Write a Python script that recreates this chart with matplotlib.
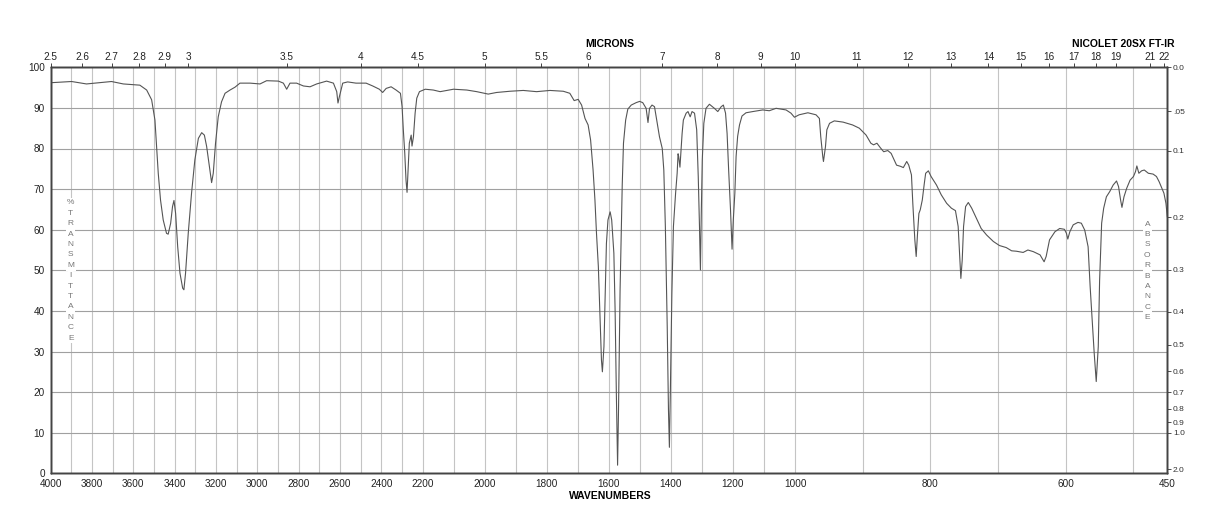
import numpy as np
import matplotlib
matplotlib.use("Agg")
import matplotlib.pyplot as plt

plt.rcParams['font.family'] = ['Liberation Sans', 'DejaVu Sans']

# spectrum (wavenumber cm-1, %T)
wavenumber = [
    4000, 3898, 3826, 3705, 3648, 3568, 3535, 3511, 3495, 3487, 3479, 3468, 3455, 3439, 3431,
    3419, 3410, 3403, 3395, 3385, 3374, 3361, 3355, 3347, 3334, 3318, 3302, 3285, 3269, 3256,
    3245, 3234, 3221, 3213, 3202, 3189, 3173, 3156, 3132, 3108, 3084, 3035, 2987, 2955, 2898,
    2874, 2858, 2842, 2810, 2777, 2745, 2713, 2665, 2632, 2616, 2610, 2603, 2587, 2563, 2523,
    2474, 2442, 2410, 2394, 2377, 2353, 2329, 2308, 2300, 2294, 2287, 2281, 2276, 2271, 2265,
    2256, 2252, 2245, 2237, 2229, 2216, 2192, 2166, 2144, 2101, 2058, 2026, 1989, 1962, 1919,
    1876, 1833, 1790, 1747, 1726, 1712, 1699, 1688, 1677, 1667, 1659, 1651, 1645, 1640, 1634,
    1629, 1624, 1621, 1616, 1612, 1608, 1603, 1596, 1591, 1584, 1580, 1576, 1572, 1569, 1564,
    1557, 1553, 1546, 1539, 1528, 1512, 1501, 1491, 1480, 1474, 1469, 1461, 1453, 1445, 1437,
    1428, 1423, 1418, 1412, 1408, 1405, 1402, 1397, 1392, 1385, 1380, 1377, 1375, 1371, 1368,
    1364, 1360, 1351, 1345, 1338, 1332, 1324, 1317, 1312, 1308, 1305, 1302, 1299, 1294, 1287,
    1276, 1260, 1249, 1238, 1231, 1224, 1219, 1214, 1208, 1203, 1199, 1194, 1190, 1185, 1179,
    1171, 1158, 1136, 1104, 1083, 1061, 1029, 1013, 1002, 994, 981, 969, 964, 962, 959,
    958, 955, 953, 949, 942, 929, 915, 905, 895, 888, 884, 879, 874, 869, 863,
    858, 850, 844, 840, 835, 832, 828, 826, 823, 821, 819, 817, 815, 812, 809,
    807, 803, 799, 791, 784, 776, 769, 763, 759, 757, 755, 753, 751, 748, 744,
    739, 732, 725, 717, 707, 698, 688, 680, 673, 663, 656, 648, 638, 632, 629,
    624, 616, 609, 602, 599, 597, 594, 589, 582, 577, 572, 567, 564, 561, 558,
    555, 552, 550, 547, 544, 540, 535, 530, 525, 522, 519, 517, 514, 510, 505,
    500, 497, 495, 492, 488, 484, 478, 471, 466, 462, 459, 455, 452, 450]
transmittance = [
    96.2, 96.5, 95.9, 96.5, 95.9, 95.6, 94.4, 92.0, 87.0, 80.5, 73.9, 67.3, 62.4, 59.1, 58.9,
    61.6, 65.7, 67.2, 64.0, 55.8, 49.3, 45.6, 45.2, 49.3, 59.1, 69.0, 77.2, 82.5, 83.9, 83.3,
    80.5, 76.4, 71.6, 73.9, 81.3, 87.8, 91.5, 93.6, 94.4, 95.1, 96.1, 96.1, 95.9, 96.7, 96.6,
    96.1, 94.6, 96.1, 96.1, 95.4, 95.2, 95.9, 96.6, 96.1, 94.0, 91.2, 92.8, 96.1, 96.4, 96.1,
    96.1, 95.4, 94.6, 93.8, 94.8, 95.2, 94.4, 93.6, 90.3, 84.6, 78.8, 72.2, 69.2, 74.7, 81.3,
    83.3, 80.6, 82.9, 88.7, 92.4, 94.0, 94.6, 94.4, 94.0, 94.6, 94.4, 94.0, 93.4, 93.8, 94.1,
    94.3, 94.0, 94.3, 94.1, 93.6, 91.8, 92.1, 90.7, 87.4, 85.8, 82.1, 74.7, 67.3, 59.1, 50.9,
    39.4, 27.9, 25.0, 31.2, 44.3, 56.6, 62.4, 64.4, 62.4, 54.2, 40.2, 19.7, 2.0, 15.6, 45.0,
    71.1, 81.3, 87.0, 89.7, 90.7, 91.3, 91.6, 91.3, 89.9, 86.4, 89.9, 90.7, 90.3, 86.6, 82.9,
    80.0, 74.7, 60.8, 36.1, 15.6, 6.4, 19.7, 44.3, 60.8, 69.0, 73.9, 78.7, 78.0, 75.4, 78.8,
    83.7, 87.0, 88.7, 89.1, 87.8, 89.1, 88.7, 84.6, 73.1, 60.8, 50.1, 64.9, 77.2, 86.2, 89.9,
    90.9, 89.9, 89.1, 90.3, 90.7, 88.7, 83.7, 74.7, 64.9, 55.2, 62.4, 69.0, 78.0, 83.0, 85.8,
    88.0, 88.8, 89.1, 89.5, 89.3, 89.9, 89.5, 88.7, 87.7, 88.3, 88.8, 88.3, 87.4, 82.9, 78.0,
    76.8, 80.5, 84.6, 86.2, 86.8, 86.5, 85.8, 85.0, 83.3, 81.3, 80.9, 81.3, 80.2, 79.2, 79.5,
    78.8, 75.9, 75.6, 75.3, 76.8, 75.9, 73.5, 66.5, 57.5, 53.4, 59.1, 64.0, 64.9, 67.3, 71.4,
    73.9, 74.5, 73.1, 71.0, 68.6, 66.5, 65.3, 64.7, 60.8, 54.2, 48.0, 52.5, 60.8, 65.7, 66.7,
    65.3, 62.8, 60.3, 58.7, 57.1, 56.1, 55.6, 54.8, 54.7, 54.4, 55.0, 54.6, 53.8, 52.1, 53.4,
    57.5, 59.5, 60.3, 60.1, 59.1, 57.7, 59.5, 61.2, 61.8, 61.6, 59.9, 55.8, 46.0, 37.8, 29.6,
    22.6, 31.2, 47.6, 61.6, 65.3, 68.1, 69.4, 71.0, 72.0, 70.6, 67.3, 65.5, 68.1, 70.2, 72.2,
    73.1, 74.3, 75.7, 73.9, 74.5, 74.7, 73.9, 73.7, 73.1, 71.8, 70.6, 69.0, 66.5, 63.2]

wn_labels = [4000, 3800, 3600, 3400, 3200, 3000, 2800, 2600, 2400, 2200,
             2000, 1800, 1600, 1400, 1200, 1000, 800, 600, 450]
micron_ticks = [2.5, 2.6, 2.7, 2.8, 2.9, 3, 3.5, 4, 4.5, 5, 5.5, 6, 7, 8, 9, 10,
                11, 12, 13, 14, 15, 16, 17, 18, 19, 21, 22]
absorb_ticks = [0.0, 0.05, 0.1, 0.2, 0.3, 0.4, 0.5, 0.6, 0.7, 0.8, 0.9, 1.0, 2.0]
absorb_labels = ['0.0', '.05', '0.1', '0.2', '0.3', '0.4', '0.5', '0.6', '0.7',
                 '0.8', '0.9', '1.0', '2.0']

# piecewise linear x scale: 4000-2200, 2200-1000, 1000-450 each one third
wn_breaks = [450, 1000, 2200, 4000]
pos_breaks = [0, 1, 2, 3]


def fwd(x):
    x = np.asarray(x, dtype=float)
    y = np.interp(x, wn_breaks, pos_breaks)
    y = np.where(x < 450, (x - 450) / 550.0, y)
    y = np.where(x > 4000, 3 + (x - 4000) / 1800.0, y)
    return y


def inv(y):
    y = np.asarray(y, dtype=float)
    x = np.interp(y, pos_breaks, wn_breaks)
    x = np.where(y < 0, 450 + y * 550.0, x)
    x = np.where(y > 3, 4000 + (y - 3) * 1800.0, x)
    return x


W, H = 1218, 528
fig = plt.figure(figsize=(W / 100, H / 100), dpi=100)
x0, x1, y0, y1 = 50.5, 1167.3, 67.3, 473.3
ax = fig.add_axes([x0 / W, 1 - y1 / H, (x1 - x0) / W, (y1 - y0) / H])

ax.set_xscale('function', functions=(fwd, inv))
ax.set_xlim(4000, 450)
ax.set_ylim(0, 100)

for g in range(500, 4000, 100):
    ax.axvline(g, color='#c4c4c4', lw=0.8, zorder=1)
for g in range(10, 100, 10):
    ax.axhline(g, color='#a0a0a0', lw=0.8, zorder=1)

ax.plot(wavenumber, transmittance, color='#555555', lw=0.8, zorder=3)

ax.set_xticks(wn_labels)
ax.set_xticklabels([str(v) for v in wn_labels])
ax.set_xticks([], minor=True)
ax.set_yticks(range(0, 101, 10))
ax.tick_params(axis='x', length=0, pad=4, labelsize=7.2, colors='#222222')
ax.tick_params(axis='y', length=0, pad=4, labelsize=7.2, colors='#222222')
for s in ax.spines.values():
    s.set_color('#444444')
    s.set_linewidth(1.0)

top = ax.twiny()
top.set_xscale('function', functions=(fwd, inv))
top.set_xlim(4000, 450)
top.set_xticks([1e4 / m for m in micron_ticks])
top.set_xticklabels([('%g' % m) for m in micron_ticks])
top.set_xticks([], minor=True)
top.tick_params(axis='x', length=3, width=0.6, pad=1, labelsize=7.2, colors='#222222')

right = ax.twinx()
right.set_ylim(0, 100)
right.set_yticks([100 * 10 ** (-a) for a in absorb_ticks])
right.set_yticklabels(absorb_labels)
right.set_yticks([], minor=True)
right.tick_params(axis='y', length=3, width=0.6, pad=1, labelsize=6, colors='#333333')
for a in (top, right):
    for s in a.spines.values():
        s.set_color('#444444')
        s.set_linewidth(1.0)

fig.text(610 / W, 1 - 44 / H, 'MICRONS', ha='center', va='center',
         fontsize=7.5, fontweight='bold')
fig.text(1174 / W, 1 - 44 / H, 'NICOLET 20SX FT-IR', ha='right', va='center',
         fontsize=7.5, fontweight='bold')
fig.text(610 / W, 1 - 496 / H, 'WAVENUMBERS', ha='center', va='center',
         fontsize=7.5, fontweight='bold')

for i, ch in enumerate('%TRANSMITTANCE'):
    fig.text(70.7 / W, 1 - (203 + i * 10.4) / H, ch, ha='center', va='center',
             fontsize=6, color='#777777',
             bbox=dict(facecolor='white', edgecolor='none', pad=1.2))
for i, ch in enumerate('ABSORBANCE'):
    fig.text(1147.3 / W, 1 - (224 + i * 10.4) / H, ch, ha='center', va='center',
             fontsize=6, color='#777777',
             bbox=dict(facecolor='white', edgecolor='none', pad=1.2))

fig.savefig('out.png', dpi=100)
